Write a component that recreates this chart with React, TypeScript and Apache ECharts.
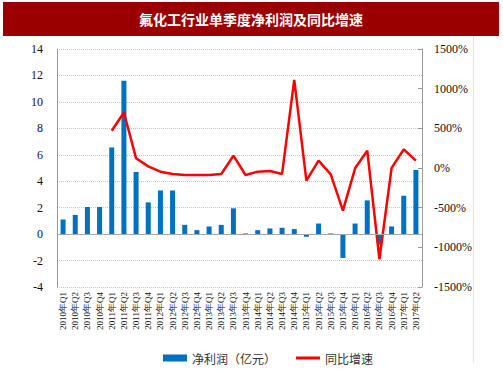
import React, { useEffect, useRef } from "react";
import * as echarts from "echarts";

const categories = [
  "2010年Q1", "2010年Q2", "2010年Q3", "2010年Q4",
  "2011年Q1", "2011年Q2", "2011年Q3", "2011年Q4",
  "2012年Q1", "2012年Q2", "2012年Q3", "2012年Q4",
  "2013年Q1", "2013年Q2", "2013年Q3", "2013年Q4",
  "2014年Q1", "2014年Q2", "2014年Q3", "2014年Q4",
  "2015年Q1", "2015年Q2", "2015年Q3", "2015年Q4",
  "2016年Q1", "2016年Q2", "2016年Q3", "2016年Q4",
  "2017年Q1", "2017年Q2",
];

const netProfit = [
  1.1, 1.45, 2.05, 2.05,
  6.55, 11.6, 4.7, 2.4,
  3.3, 3.3, 0.7, 0.3,
  0.58, 0.7, 1.95, 0.05,
  0.3, 0.43, 0.48, 0.38,
  -0.2, 0.8, 0.05, -1.8,
  0.8, 2.55, -0.8, 0.58,
  2.9, 4.85,
];

const yoyGrowth = [
  null, null, null, null,
  470, 700, 122, 20,
  -46, -75, -88, -88,
  -88, -75, 155, -88,
  -46, -38, -75, 1110,
  -160, 92, -80, -538,
  -4, 218, -1150, 0,
  235, 92,
];

const leftTicks = { min: -4, max: 14, interval: 2 };
const rightTicks = { min: -1500, max: 1500, interval: 500 };

const SERIF = "'Liberation Serif', 'Times New Roman', serif";
const CJK = "'Noto Sans CJK SC', 'Noto Sans', sans-serif";

export default function App() {
  const ref = useRef<HTMLDivElement>(null);

  useEffect(() => {
    if (!ref.current) return;
    const chart = echarts.init(ref.current, undefined, { renderer: "svg" });
    chart.setOption({
      animation: false,
      backgroundColor: "#ffffff",
      graphic: [
        {
          type: "rect",
          shape: { x: 3, y: 2, width: 496, height: 34 },
          style: { fill: "#9a0000" },
          z: 10,
        },
        {
          type: "text",
          x: 251,
          y: 19,
          style: {
            text: "氟化工行业单季度净利润及同比增速",
            fill: "#ffffff",
            font: "bold 14px " + CJK,
            textAlign: "center",
            textVerticalAlign: "middle",
          },
          z: 11,
        },
        {
          type: "line",
          shape: { x1: 473.5, y1: 36, x2: 473.5, y2: 362 },
          style: { stroke: "#e2e2e2", lineWidth: 1 },
        },
      ],
      legend: {
        left: 158,
        top: 347,
        itemGap: 20,
        itemWidth: 24,
        itemHeight: 7,
        textStyle: { fontFamily: CJK, fontSize: 12, color: "#333" },
        data: [
          { name: "净利润（亿元）", icon: "rect" },
          { name: "同比增速", icon: "path://M0,0 H24 V3 H0 Z" },
        ],
      },
      grid: { left: 57, right: 81, top: 49, bottom: 91 },
      xAxis: {
        type: "category",
        data: categories,
        boundaryGap: true,
        axisLine: { show: false },
        axisTick: { show: false },
        axisLabel: {
          rotate: 90,
          interval: 0,
          fontFamily: SERIF,
          fontSize: 9,
          color: "#111",
          margin: 5,
        },
      },
      yAxis: [
        {
          type: "value",
          min: leftTicks.min,
          max: leftTicks.max,
          interval: leftTicks.interval,
          axisLine: { show: true, lineStyle: { color: "#9a9a9a" } },
          axisTick: { show: false },
          axisLabel: { fontFamily: SERIF, fontSize: 12, color: "#111", margin: 14 },
          splitLine: { show: true, lineStyle: { color: "#c8c8c8", type: "dotted" } },
        },
        {
          type: "value",
          min: rightTicks.min,
          max: rightTicks.max,
          interval: rightTicks.interval,
          axisLine: { show: true, lineStyle: { color: "#9a9a9a" } },
          axisTick: { show: true, inside: true, length: 4, lineStyle: { color: "#9a9a9a" } },
          axisLabel: {
            fontFamily: SERIF,
            fontSize: 12,
            color: "#111",
            margin: 12,
            formatter: (v: number) => String(v) + "%",
          },
          splitLine: { show: false },
        },
      ],
      series: [
        {
          name: "净利润（亿元）",
          type: "bar",
          yAxisIndex: 0,
          data: netProfit,
          barWidth: 5,
          itemStyle: { color: "#0070c0" },
          markLine: {
            silent: true,
            symbol: "none",
            label: { show: false },
            lineStyle: { color: "#a6a6a6", type: "solid", width: 1 },
            data: [{ yAxis: 0 }],
          },
        },
        {
          name: "同比增速",
          type: "line",
          yAxisIndex: 1,
          data: yoyGrowth,
          showSymbol: false,
          symbol: "none",
          connectNulls: false,
          lineStyle: { color: "#ff0000", width: 2.5 },
          itemStyle: { color: "#ff0000" },
          z: 3,
        },
      ],
    });
    return () => chart.dispose();
  }, []);

  return (
    <div
      ref={ref}
      style={{ position: "fixed", left: 0, top: 0, width: 503, height: 378 }}
    />
  );
}
